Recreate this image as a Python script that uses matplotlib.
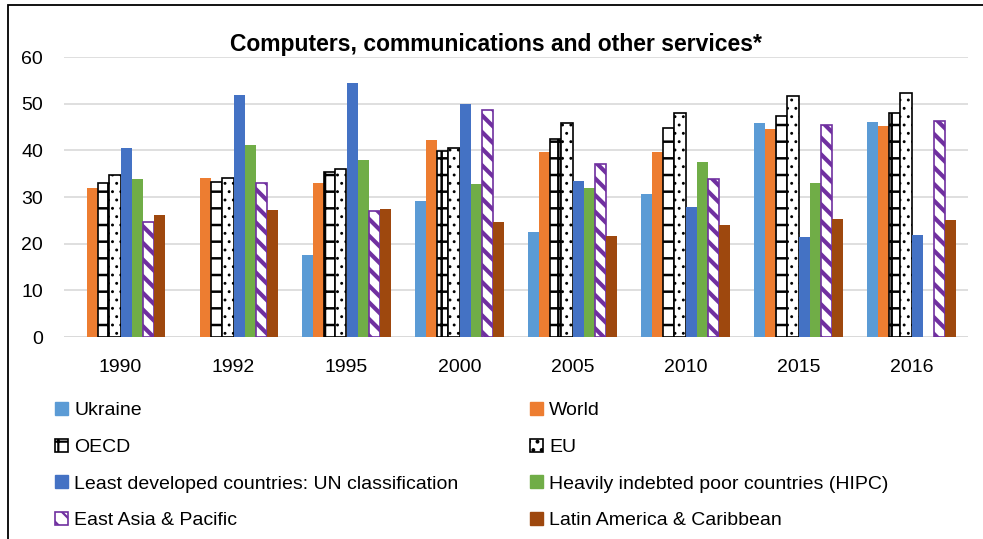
import numpy as np
import matplotlib
matplotlib.use("Agg")
import matplotlib.pyplot as plt
from matplotlib.patches import Patch, Rectangle

plt.rcParams['font.family'] = ['Liberation Sans', 'DejaVu Sans']
plt.rcParams['hatch.linewidth'] = 1.6

years = ['1990', '1992', '1995', '2000', '2005', '2010', '2015', '2016']

ukraine = [np.nan, np.nan, 17.6, 29.1, 22.4, 30.6, 45.8, 46.1]
world = [32.0, 34.1, 33.0, 42.2, 39.7, 39.6, 44.6, 45.3]
oecd = [33.1, 33.3, 35.4, 39.8, 42.4, 44.7, 47.4, 48.1]
eu = [34.7, 34.1, 35.9, 40.5, 45.9, 47.9, 51.7, 52.3]
ldc = [40.5, 51.9, 54.4, 49.9, 33.4, 27.9, 21.4, 21.8]
hipc = [33.9, 41.1, 38.0, 32.8, 31.9, 37.5, 32.9, np.nan]
eap = [24.7, 32.9, 26.9, 48.6, 37.1, 33.9, 45.4, 46.2]
lac = [26.1, 27.2, 27.4, 24.7, 21.6, 24.1, 25.3, 25.0]

series = [
    ('Ukraine', ukraine, dict(color='#5B9BD5'), None),
    ('World', world, dict(color='#ED7D31'), None),
    ('OECD', oecd, dict(facecolor='white', edgecolor='black', hatch='+', linewidth=1.2), 1.8),
    ('EU', eu, dict(facecolor='white', edgecolor='black', hatch='..', linewidth=1.2), 0.9),
    ('Least developed countries: UN classification', ldc, dict(color='#4472C4'), None),
    ('Heavily indebted poor countries (HIPC)', hipc, dict(color='#70AD47'), None),
    ('East Asia & Pacific', eap, dict(facecolor='white', edgecolor='#7030A0', hatch='\\\\', linewidth=1.2), 3.0),
    ('Latin America & Caribbean', lac, dict(color='#9E480E'), None),
]


def set_hatch_lw(patch, lw):
    if lw is not None and hasattr(patch, 'set_hatch_linewidth'):
        patch.set_hatch_linewidth(lw)


W, H = 983, 539
fig = plt.figure(figsize=(W / 100, H / 100), dpi=100)
ax = fig.add_axes([64 / W, 1 - 337 / H, (968 - 64) / W, (337 - 57) / H])

x = np.arange(len(years))
n = len(series)
bw = 0.78 / n
handles = []
for i, (name, vals, style, hlw) in enumerate(series):
    bars = ax.bar(x + (i - (n - 1) / 2) * bw, np.array(vals, dtype=float), width=bw,
                  zorder=3, **style)
    for p in bars:
        set_hatch_lw(p, hlw)
    h = Patch(label=name, **style)
    set_hatch_lw(h, hlw)
    handles.append(h)

ax.set_xlim(-0.5, len(years) - 0.5)
ax.set_ylim(0, 60)
ax.set_yticks(range(0, 61, 10))
ax.set_xticks(x)
ax.set_xticklabels(years)
ax.tick_params(axis='both', length=0, labelsize=14, colors='black')
ax.tick_params(axis='x', pad=16)
ax.tick_params(axis='y', pad=15)
ax.grid(axis='y', color='#D9D9D9', linewidth=1.2, zorder=0)
for s in ax.spines.values():
    s.set_visible(False)
ax.axhline(0, color='#D9D9D9', linewidth=1.2, zorder=2)

fig.text(496 / W, 1 - 44 / H, 'Computers, communications and other services*',
         ha='center', va='center', fontsize=16.5, fontweight='bold')

legend_kw = dict(frameon=False, fontsize=14, handlelength=0.68, handleheight=0.68,
                 handletextpad=0.3, labelspacing=0.98, borderaxespad=0, borderpad=0)
leg1 = fig.legend(handles=handles[0::2], loc='upper left',
                  bbox_to_anchor=(55 / W, 1 - 402 / H), **legend_kw)
leg2 = fig.legend(handles=handles[1::2], loc='upper left',
                  bbox_to_anchor=(530 / W, 1 - 402 / H), **legend_kw)

fig.patches.append(Rectangle((8 / W, -0.05), 1.2, 1 - 5 / H + 0.05,
                             transform=fig.transFigure, fill=False,
                             edgecolor='black', linewidth=1.3))

fig.savefig('out.png', dpi=100)
